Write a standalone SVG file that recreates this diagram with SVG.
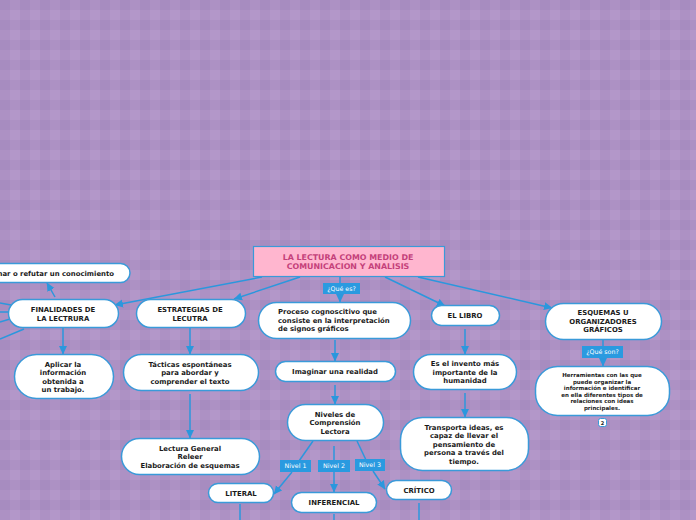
<svg xmlns="http://www.w3.org/2000/svg" width="696" height="520" viewBox="0 0 696 520">
<defs>
<pattern id="plaid" width="20" height="20" patternUnits="userSpaceOnUse">
<rect width="20" height="20" fill="#b397c9"/>
<rect x="0" y="0" width="10" height="20" fill="#6a4a8a" fill-opacity="0.08"/>
<rect x="0" y="0" width="20" height="10" fill="#6a4a8a" fill-opacity="0.08"/>
</pattern>
<marker id="ar" markerUnits="userSpaceOnUse" markerWidth="9" markerHeight="9" refX="8" refY="4.5" orient="auto" viewBox="0 0 9 9">
<path d="M0,0.5 L8.5,4.5 L0,8.5 z" fill="#2b97dd"/>
</marker>
<style>
.c{stroke:#2b97dd;stroke-width:1.5;fill:none}
.n{fill:#fff;stroke:#3a9ad9;stroke-width:1.5}
.t{font-family:"DejaVu Sans",Verdana,sans-serif;font-weight:bold;font-size:6.9px;fill:#1a1a1a;text-anchor:middle}
.s{font-size:5.5px}
.l{fill:#2a9ae0}
.lt{font-family:"DejaVu Sans",Verdana,sans-serif;font-size:6.3px;fill:#fff;text-anchor:middle}
</style>
</defs>
<rect width="696" height="520" fill="url(#plaid)"/>
<g id="connectors">
<line class="c" x1="262" y1="277" x2="115" y2="305" marker-end="url(#ar)"/>
<line class="c" x1="300" y1="277" x2="234" y2="299" marker-end="url(#ar)"/>
<line class="c" x1="340" y1="277" x2="340" y2="284"/>
<line class="c" x1="340" y1="294" x2="340" y2="302" marker-end="url(#ar)"/>
<line class="c" x1="385" y1="277" x2="445" y2="306" marker-end="url(#ar)"/>
<line class="c" x1="418" y1="277" x2="552" y2="308" marker-end="url(#ar)"/>
<line class="c" x1="55" y1="297" x2="47" y2="283" marker-end="url(#ar)"/>
<line class="c" x1="0" y1="303" x2="11" y2="305"/>
<line class="c" x1="0" y1="312" x2="9" y2="312"/>
<line class="c" x1="0" y1="322" x2="10" y2="319"/>
<line class="c" x1="0" y1="339" x2="24" y2="329"/>
<line class="c" x1="63" y1="328" x2="63" y2="354" marker-end="url(#ar)"/>
<line class="c" x1="190" y1="328" x2="190" y2="354" marker-end="url(#ar)"/>
<line class="c" x1="190" y1="394" x2="190" y2="438" marker-end="url(#ar)"/>
<line class="c" x1="335" y1="340" x2="335" y2="361" marker-end="url(#ar)"/>
<line class="c" x1="335" y1="385" x2="335" y2="404" marker-end="url(#ar)"/>
<line class="c" x1="313" y1="441" x2="299" y2="461"/>
<line class="c" x1="292" y1="472" x2="274" y2="494" marker-end="url(#ar)"/>
<line class="c" x1="334" y1="446" x2="334" y2="461"/>
<line class="c" x1="334" y1="472" x2="334" y2="492" marker-end="url(#ar)"/>
<line class="c" x1="357" y1="441" x2="366" y2="460"/>
<line class="c" x1="373" y1="471" x2="385" y2="489" marker-end="url(#ar)"/>
<line class="c" x1="240" y1="504" x2="240" y2="520"/>
<line class="c" x1="334" y1="514" x2="334" y2="520"/>
<line class="c" x1="419" y1="503" x2="419" y2="520"/>
<line class="c" x1="465" y1="329" x2="465" y2="354" marker-end="url(#ar)"/>
<line class="c" x1="465" y1="393" x2="465" y2="417" marker-end="url(#ar)"/>
<line class="c" x1="603" y1="340" x2="603" y2="347"/>
<line class="c" x1="603" y1="358" x2="603" y2="366" marker-end="url(#ar)"/>
</g>
<g id="central">
<rect x="253.5" y="246.5" width="191" height="30" fill="#ffb6cf" stroke="#3a9ad9" stroke-width="1.2"/>
<text class="t" x="348" y="259.5" style="fill:#c4407a;font-size:7.9px">LA LECTURA COMO MEDIO DE</text>
<text class="t" x="348" y="269" style="fill:#c4407a;font-size:7.9px">COMUNICACION Y ANALISIS</text>
</g>
<g id="confirmar">
<rect class="n" x="-30" y="263.5" width="160" height="19" rx="9.5"/>
<text class="t" x="114" y="275.5" style="text-anchor:end">mar o refutar un conocimiento</text>
</g>
<g id="finalidades">
<rect class="n" x="8.5" y="299.5" width="110" height="28" rx="14"/>
<text class="t" x="63" y="311.5">FINALIDADES DE</text>
<text class="t" x="63" y="320.5">LA LECTRURA</text>
</g>
<g id="estrategias">
<rect class="n" x="136.5" y="299.5" width="109" height="28" rx="14"/>
<text class="t" x="190" y="311.5">ESTRATEGIAS DE</text>
<text class="t" x="190" y="320.5">LECUTRA</text>
</g>
<g id="queEs">
<rect class="l" x="323" y="283" width="37" height="11"/>
<text class="lt" x="341.5" y="290.8">¿Qué es?</text>
</g>
<g id="proceso">
<rect class="n" x="258.5" y="302.5" width="152" height="36" rx="18"/>
<text class="t" x="278" y="314" style="text-anchor:start">Proceso cognoscitivo que</text>
<text class="t" x="278" y="322.5" style="text-anchor:start">consiste en la interpretación</text>
<text class="t" x="278" y="331" style="text-anchor:start">de signos gráficos</text>
</g>
<g id="libro">
<rect class="n" x="431.5" y="305.5" width="68" height="20" rx="10"/>
<text class="t" x="465" y="318">EL LIBRO</text>
</g>
<g id="esquemas">
<rect class="n" x="545.5" y="303.5" width="116" height="36" rx="18"/>
<text class="t" x="603" y="315">ESQUEMAS U</text>
<text class="t" x="603" y="323.5">ORGANIZADORES</text>
<text class="t" x="603" y="332">GRÁFICOS</text>
</g>
<g id="queSon">
<rect class="l" x="582" y="346" width="41" height="12"/>
<text class="lt" x="602.5" y="354.3">¿Qué son?</text>
</g>
<g id="herramientas">
<rect class="n" x="535.5" y="366.5" width="134" height="49" rx="22"/>
<text class="t s" x="602" y="377">Herramientas con las que</text>
<text class="t s" x="602" y="383.5">puede organizar la</text>
<text class="t s" x="602" y="390">información e identificar</text>
<text class="t s" x="602" y="396.5">en ella diferentes tipos de</text>
<text class="t s" x="602" y="403">relaciones con ideas</text>
<text class="t s" x="602" y="409.5">principales.</text>
</g>
<g id="badge2">
<rect x="598.5" y="418.5" width="8" height="8" rx="2" fill="#fff" stroke="#3a9ad9" stroke-width="1"/>
<text class="t" x="602.5" y="424.5" style="font-size:5px">2</text>
</g>
<g id="aplicar">
<rect class="n" x="14.5" y="354.5" width="99" height="44" rx="22"/>
<text class="t" x="63" y="366.5">Aplicar la</text>
<text class="t" x="63" y="375">información</text>
<text class="t" x="63" y="383.5">obtenida a</text>
<text class="t" x="63" y="392">un trabajo.</text>
</g>
<g id="tacticas">
<rect class="n" x="123.5" y="354.5" width="135" height="36" rx="18"/>
<text class="t" x="190" y="366.5">Tácticas espontáneas</text>
<text class="t" x="190" y="375">para abordar y</text>
<text class="t" x="190" y="383.5">comprender el texto</text>
</g>
<g id="lectura">
<rect class="n" x="121.5" y="438.5" width="138" height="36" rx="18"/>
<text class="t" x="190" y="450.5">Lectura General</text>
<text class="t" x="190" y="459">Releer</text>
<text class="t" x="190" y="467.5">Elaboración de esquemas</text>
</g>
<g id="imaginar">
<rect class="n" x="275.5" y="361.5" width="120" height="20" rx="10"/>
<text class="t" x="335" y="374">Imaginar una realidad</text>
</g>
<g id="niveles">
<rect class="n" x="287.5" y="404.5" width="96" height="36" rx="18"/>
<text class="t" x="335" y="416.5">Niveles de</text>
<text class="t" x="335" y="425">Comprensión</text>
<text class="t" x="335" y="433.5">Lectora</text>
</g>
<g id="nivel1">
<rect class="l" x="280" y="460" width="31" height="12"/>
<text class="lt" x="295.5" y="468.3">Nivel 1</text>
</g>
<g id="nivel2">
<rect class="l" x="318" y="460" width="32" height="12"/>
<text class="lt" x="334" y="468.3">Nivel 2</text>
</g>
<g id="nivel3">
<rect class="l" x="355" y="459" width="30" height="12"/>
<text class="lt" x="370" y="467.3">Nivel 3</text>
</g>
<g id="literal">
<rect class="n" x="208.5" y="483.5" width="65" height="19" rx="9.5"/>
<text class="t" x="241" y="495.5">LITERAL</text>
</g>
<g id="inferencial">
<rect class="n" x="291.5" y="492.5" width="85" height="20" rx="10"/>
<text class="t" x="334" y="505">INFERENCIAL</text>
</g>
<g id="critico">
<rect class="n" x="386.5" y="480.5" width="65" height="19" rx="9.5"/>
<text class="t" x="419" y="492.5">CRÍTICO</text>
</g>
<g id="invento">
<rect class="n" x="413.5" y="354.5" width="103" height="35" rx="17.5"/>
<text class="t" x="465" y="366">Es el invento más</text>
<text class="t" x="465" y="374.5">importante de la</text>
<text class="t" x="465" y="383">humanidad</text>
</g>
<g id="transporta">
<rect class="n" x="400.5" y="417.5" width="128" height="53" rx="22"/>
<text class="t" x="464" y="429.5">Transporta ideas, es</text>
<text class="t" x="464" y="438">capaz de llevar el</text>
<text class="t" x="464" y="446.5">pensamiento de</text>
<text class="t" x="464" y="455">persona a través del</text>
<text class="t" x="464" y="463.5">tiempo.</text>
</g>
</svg>
